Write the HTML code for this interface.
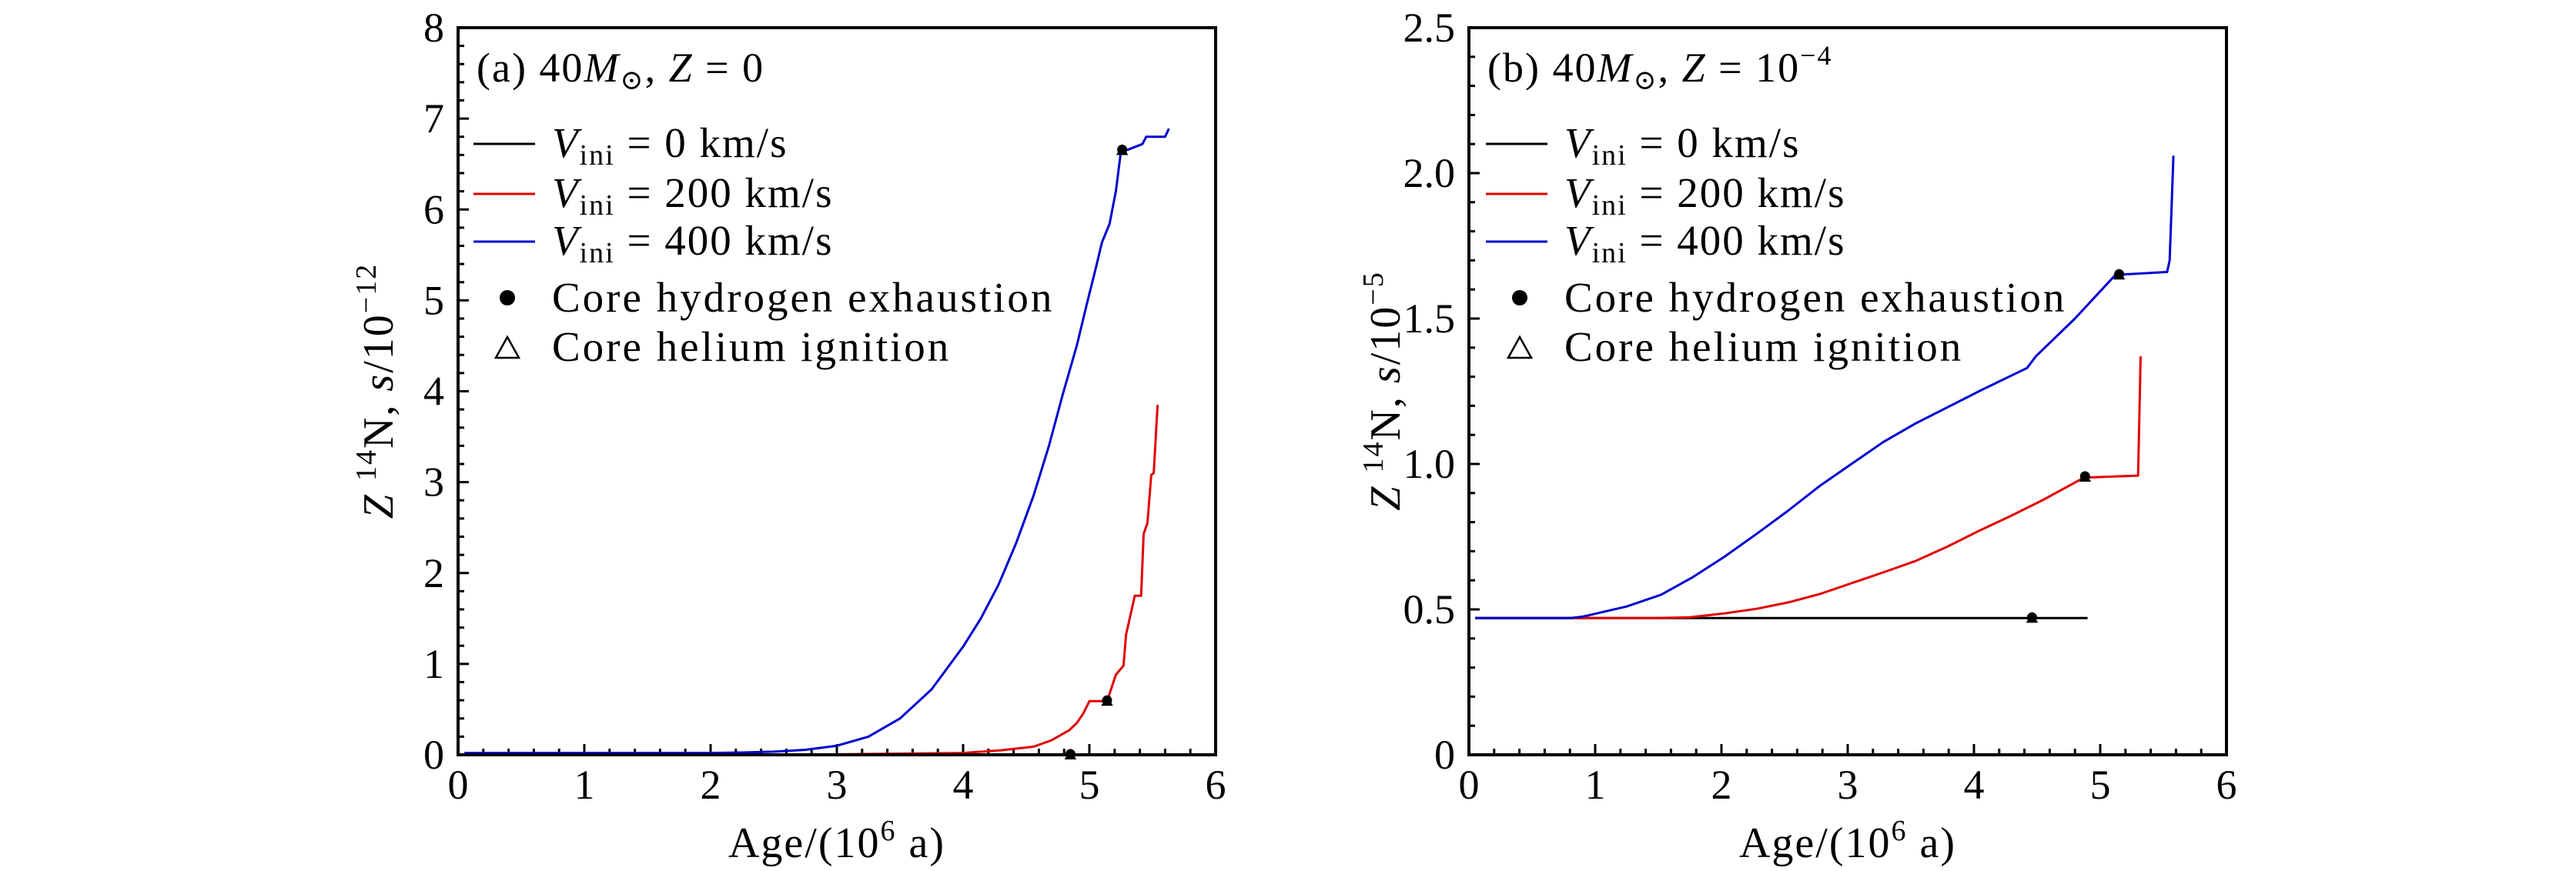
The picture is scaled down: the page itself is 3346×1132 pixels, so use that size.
<!DOCTYPE html>
<html><head><meta charset="utf-8"><style>
html,body{margin:0;padding:0;background:#fff}
svg{display:block}
text{font-family:"Liberation Serif","DejaVu Serif",serif;fill:#000}
</style></head><body>
<svg id="fig" width="3346" height="1132" viewBox="0 0 3346 1132" xmlns="http://www.w3.org/2000/svg"></svg>
<script>
// Panel (a) data
const a_black_x=[0.05,5.23], a_black_y=[0,0];
const a_red_x=[0.05,2.0,3.0,4.0,4.3,4.56,4.7,4.84,4.9,4.95,5.0,5.14,5.21,5.27,5.29,5.36,5.41,5.43,5.46,5.49,5.51,5.54];
const a_red_y=[0,0,0.005,0.02,0.05,0.09,0.16,0.27,0.35,0.45,0.59,0.59,0.88,0.98,1.32,1.75,1.75,2.43,2.55,3.08,3.1,3.85];
const a_blue_x=[0.05,2.0,2.25,2.5,2.75,3.0,3.25,3.5,3.75,4.0,4.14,4.28,4.42,4.56,4.68,4.79,4.9,4.98,5.05,5.1,5.16,5.21,5.25,5.31,5.42,5.45,5.6,5.63];
const a_blue_y=[0.02,0.02,0.025,0.035,0.055,0.1,0.2,0.4,0.72,1.19,1.5,1.87,2.33,2.86,3.4,3.97,4.5,4.96,5.35,5.64,5.84,6.2,6.64,6.66,6.72,6.8,6.8,6.89];
const a_markers_x=[4.85,5.14,5.26], a_markers_y=[0,0.59,6.65];
const a_xticks=[0,1,2,3,4,5,6], a_yticks=[0,1,2,3,4,5,6,7,8];
// Panel (b) data
const b_black_x=[0.05,4.9], b_black_y=[0.47,0.47];
const b_red_x=[0.05,1.5,1.75,2.02,2.28,2.53,2.78,3.03,3.28,3.54,3.79,4.04,4.3,4.55,4.87,5.3,5.32];
const b_red_y=[0.47,0.47,0.473,0.486,0.502,0.524,0.553,0.59,0.627,0.667,0.716,0.77,0.823,0.877,0.953,0.96,1.37];
const b_blue_x=[0.05,0.8,0.9,1.01,1.25,1.52,1.77,2.02,2.28,2.53,2.78,3.03,3.28,3.54,3.79,4.04,4.23,4.42,4.49,4.8,5.12,5.53,5.55,5.58];
const b_blue_y=[0.47,0.47,0.475,0.486,0.51,0.55,0.61,0.68,0.76,0.84,0.925,1.0,1.075,1.14,1.195,1.25,1.29,1.33,1.37,1.5,1.65,1.66,1.70,2.06];
const b_markers_x=[4.46,4.88,5.15], b_markers_y=[0.47,0.955,1.65];
const b_xticks=[0,1,2,3,4,5,6], b_yticks=[0,0.5,1.0,1.5,2.0,2.5];
const b_ylabels=["0","0.5","1.0","1.5","2.0","2.5"];

const NS="http://www.w3.org/2000/svg", svg=document.getElementById('fig');
function mk(tag,at,parent){const e=document.createElementNS(NS,tag);for(const k in at)e.setAttribute(k,at[k]);(parent||svg).appendChild(e);return e;}

function panel(cfg){
  const g=mk('g',{});
  
  
  const L=cfg.L,R=cfg.R,T=36,B=981;
  const sx=v=>L+(v-0)/6*(R-L), sy=v=>B-(v/cfg.ymax)*(B-T);
  for(let i=0;i<=30;i++){const v=i*0.2,x=sx(v),len=(i%5==0)?14:8;
    const t=mk('line',{x1:x,y1:B,x2:x,y2:B-len,stroke:'#000','stroke-width':3},g);
    }
  const nm=Math.round(cfg.ymax/cfg.minor);
  for(let i=0;i<=nm;i++){const y=sy(i*cfg.minor),len=(i%5==0)?14:8;
    const t=mk('line',{x1:L,y1:y,x2:L+len,y2:y,stroke:'#000','stroke-width':3},g);
    }
  cfg.xticks.forEach(v=>{const t=mk('text',{x:sx(v),y:1038,'font-size':54,'text-anchor':'middle'},g);t.textContent=String(v);
    });
  cfg.yticks.forEach((v,i)=>{const t=mk('text',{x:L-18,y:sy(v)+18,'font-size':54,'text-anchor':'end'},g);t.textContent=cfg.ylabels?cfg.ylabels[i]:String(v);
    });
  const ser=[[cfg.bx,cfg.by,'#000','series-0-kms'],[cfg.rx,cfg.ry,'#e00000','series-200-kms'],[cfg.ux,cfg.uy,'#0000d0','series-400-kms']];
  ser.forEach(s=>{const d=s[0].map((v,i)=>(i?'L':'M')+sx(v).toFixed(1)+' '+sy(s[1][i]).toFixed(1)).join(' ');
    const p=mk('path',{d:d,fill:'none',stroke:s[2],'stroke-width':3,'stroke-linejoin':'round'},g);
    });
  cfg.mx.forEach((v,i)=>{const x=sx(v),y=sy(cfg.my[i]);
    const tr=mk('path',{d:`M${x-6} ${y+5} L${x+6} ${y+5} L${x} ${y-6} Z`,fill:'none',stroke:'#000','stroke-width':2},g);
    
    const c=mk('circle',{cx:x,cy:y-1,r:6.5,fill:'#000'},g);
    });
  const f=mk('rect',{x:L,y:T,width:R-L,height:B-T,fill:'none',stroke:'#000','stroke-width':4},g);
  
  const tt=mk('text',{x:L+24,y:106,'font-size':54,'letter-spacing':'2'},g);
  tt.innerHTML=cfg.title;
  
  const lx=L+cfg.lo, rows=[187,252,314];
  const labs=['0','200','400'], cols=['#000','#e00000','#0000d0'];
  rows.forEach((y,i)=>{const ln=mk('line',{x1:lx,y1:y,x2:lx+80,y2:y,stroke:cols[i],'stroke-width':3},g);
    
    const t=mk('text',{x:lx+102,y:y+17,'font-size':55,'letter-spacing':'2'},g);
    t.innerHTML=`<tspan font-style="italic">V</tspan><tspan font-size="38" dy="10">ini</tspan><tspan dy="-10"> = ${labs[i]}  km/s</tspan>`;
    });
  const dc=mk('circle',{cx:lx+44,cy:387,r:10,fill:'#000'},g);
  
  const t1=mk('text',{x:lx+102,y:405,'font-size':55,'letter-spacing':'3'},g);t1.textContent='Core hydrogen exhaustion';
  
  const ltr=mk('path',{d:`M${lx+29} 465 L${lx+59} 465 L${lx+44} 438 Z`,fill:'none',stroke:'#000','stroke-width':2.5},g);
  
  const t2=mk('text',{x:lx+102,y:469,'font-size':55,'letter-spacing':'3'},g);t2.textContent='Core helium ignition';
  
  const xl=mk('text',{x:(L+R)/2,y:1114,'font-size':56,'text-anchor':'middle','letter-spacing':'2'},g);
  xl.innerHTML='Age/(10<tspan font-size="38" dy="-22">6</tspan><tspan dy="22"> a)</tspan>';
  
  const yl=mk('text',{x:0,y:0,'font-size':56,'text-anchor':'middle','letter-spacing':'2',transform:`translate(${cfg.ylx},508) rotate(-90)`},g);
  yl.innerHTML=`<tspan font-style="italic">Z</tspan> <tspan font-size="38" dy="-22">14</tspan><tspan dy="22">N, </tspan><tspan font-style="italic">s</tspan>/10<tspan font-size="38" dy="-22">−${cfg.exp}</tspan>`;
  
}
panel({name:'panel-a',L:595,R:1579,ymax:8,minor:0.2,xticks:a_xticks,yticks:a_yticks,
  bx:a_black_x,by:a_black_y,rx:a_red_x,ry:a_red_y,ux:a_blue_x,uy:a_blue_y,mx:a_markers_x,my:a_markers_y,
  title:'(a)  40<tspan font-style="italic">M</tspan><tspan font-size="36" dy="10">⊙</tspan><tspan dy="-10">,  </tspan><tspan font-style="italic">Z</tspan> = 0',lo:20,ylx:510,exp:'12'});
panel({name:'panel-b',L:1908,R:2892,ymax:2.5,minor:0.1,xticks:b_xticks,yticks:b_yticks,ylabels:b_ylabels,
  bx:b_black_x,by:b_black_y,rx:b_red_x,ry:b_red_y,ux:b_blue_x,uy:b_blue_y,mx:b_markers_x,my:b_markers_y,
  title:'(b)  40<tspan font-style="italic">M</tspan><tspan font-size="36" dy="10">⊙</tspan><tspan dy="-10">,  </tspan><tspan font-style="italic">Z</tspan> = 10<tspan font-size="36" dy="-22">−4</tspan>',lo:22,ylx:1818,exp:'5'});
</script>
</body></html>
